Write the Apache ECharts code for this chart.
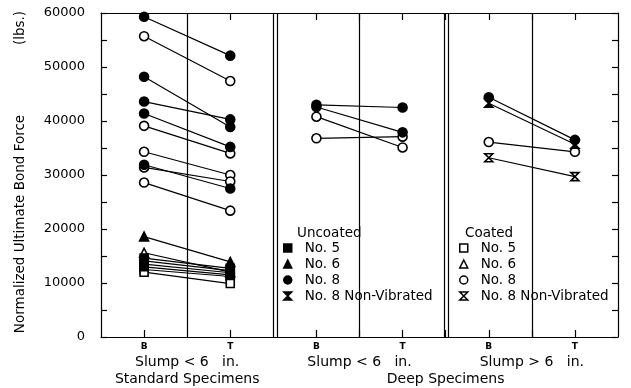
<!DOCTYPE html>
<html>
<head>
<meta charset="utf-8">
<script src="https://cdn.jsdelivr.net/npm/echarts@6/dist/echarts.min.js"></script>
<style>
html,body{margin:0;padding:0;background:#fff;}
#chart{width:631px;height:388px;}
</style>
</head>
<body>
<div id="chart"></div>
<script>
// ---- data (pairs: [value at B, value at T]) ----
const xTickPositions = [1, 3, 5, 7, 9, 11];
const xTickLabels = ['B', 'T', 'B', 'T', 'B', 'T'];
const yTicks = [0, 10000, 20000, 30000, 40000, 50000, 60000];

// Standard specimens, slump < 6 in.
const stdUncoatedNo5 = [[14600, 12700], [14100, 12300], [13500, 11900], [13000, 11500]];
const stdCoatedNo5 = [[12500, 11200], [12000, 9900]];
const stdUncoatedNo6 = [[18600, 13900]];
const stdCoatedNo6 = [[15600, 12000]];
const stdUncoatedNo8 = [[59300, 52100], [48200, 38900], [43600, 40300], [41400, 35200], [31900, 27500]];
const stdCoatedNo8 = [[55700, 47400], [39100, 34000], [34300, 30000], [31400, 28800], [28600, 23400]];

// Deep specimens, slump < 6 in.
const deepLowUncoatedNo8 = [[43000, 42500], [42600, 37900]];
const deepLowCoatedNo8 = [[40800, 35100], [36800, 37100]];

// Deep specimens, slump > 6 in.
const deepHighUncoatedNo8 = [[44400, 36500]];
const deepHighUncoatedNo8NV = [[43300, 35700]];
const deepHighCoatedNo8 = [[36100, 34300]];
const deepHighCoatedNo8NV = [[33200, 29700]];

const groupTitles = ['Slump < 6   in.', 'Slump < 6   in.', 'Slump > 6   in.'];
const groupSubTitles = ['Standard Specimens', 'Deep Specimens'];

// ---- styles ----
const FONT = '"DejaVu Sans", "Liberation Sans", sans-serif';
const HOUR = 'path://M0,0L10,0L0,10L10,10Z';
const styles = {
  'Uncoated No. 5': {symbol: 'rect', size: 8, fill: '#000'},
  'Uncoated No. 6': {symbol: 'triangle', size: 9, fill: '#000'},
  'Uncoated No. 8': {symbol: 'circle', size: 9, fill: '#000'},
  'Uncoated No. 8 Non-Vibrated': {symbol: HOUR, size: 8, fill: '#000'},
  'Coated No. 5': {symbol: 'rect', size: 8, fill: '#fff'},
  'Coated No. 6': {symbol: 'triangle', size: 9, fill: '#fff'},
  'Coated No. 8': {symbol: 'circle', size: 9, fill: '#fff'},
  'Coated No. 8 Non-Vibrated': {symbol: HOUR, size: 8, fill: '#fff'}
};

const series = [];
function addGroup(name, pairs, bx, tx) {
  const st = styles[name];
  pairs.forEach(p => {
    series.push({
      type: 'line', name: name, xAxisIndex: 0, yAxisIndex: 0,
      data: [[bx, p[0]], [tx, p[1]]],
      symbol: st.symbol, symbolSize: st.size, showSymbol: true,
      itemStyle: {color: st.fill, borderColor: '#000', borderWidth: 1.6, opacity: 1},
      lineStyle: {color: '#000', width: 1.2},
      z: st.fill === '#000' ? 4 : 3,
      animation: false, silent: true
    });
  });
}
addGroup('Coated No. 5', stdCoatedNo5, 1, 3);
addGroup('Uncoated No. 5', stdUncoatedNo5, 1, 3);
addGroup('Coated No. 6', stdCoatedNo6, 1, 3);
addGroup('Uncoated No. 6', stdUncoatedNo6, 1, 3);
addGroup('Coated No. 8', stdCoatedNo8, 1, 3);
addGroup('Uncoated No. 8', stdUncoatedNo8, 1, 3);
addGroup('Coated No. 8', deepLowCoatedNo8, 5, 7);
addGroup('Uncoated No. 8', deepLowUncoatedNo8, 5, 7);
addGroup('Coated No. 8', deepHighCoatedNo8, 9, 11);
addGroup('Coated No. 8 Non-Vibrated', deepHighCoatedNo8NV, 9, 11);
addGroup('Uncoated No. 8 Non-Vibrated', deepHighUncoatedNo8NV, 9, 11);
addGroup('Uncoated No. 8', deepHighUncoatedNo8, 9, 11);

// panel divider lines
series.push({
  type: 'line', name: 'dividers', data: [], silent: true, animation: false,
  markLine: {
    silent: true, symbol: 'none', label: {show: false}, animation: false,
    lineStyle: {color: '#000', width: 1.2, type: 'solid'},
    data: [{xAxis: 2}, {xAxis: 4}, {xAxis: 4.09}, {xAxis: 6}, {xAxis: 7.97}, {xAxis: 8.06}, {xAxis: 10}]
  }
});

function legendItems(prefix) {
  return ['No. 5', 'No. 6', 'No. 8', 'No. 8 Non-Vibrated'].map(n => {
    const name = prefix + ' ' + n;
    const st = styles[name];
    return {name: name, icon: st.symbol,
      itemStyle: {color: st.fill, borderColor: '#000', borderWidth: 1.5}};
  });
}
const legendCommon = {
  orient: 'vertical', itemWidth: 8, itemHeight: 8, itemGap: 2, padding: 0,
  selectedMode: false, inactiveColor: '#000',
  textStyle: {fontFamily: FONT, fontSize: 13.5, color: '#000', lineHeight: 14, padding: [0, 0, 0, 8]},
  formatter: n => n.replace(/^(Uncoated|Coated) /, '')
};

const tickPos = [1, 3, 5, 6, 7, 8, 9, 10, 11];
const yMinor = [];
for (let v = 0; v <= 60000; v += 5000) yMinor.push(v);

const chart = echarts.init(document.getElementById('chart'), null, {renderer: 'canvas'});
chart.setOption({
  animation: false,
  backgroundColor: '#fff',
  grid: {left: 101, right: 13, top: 13, bottom: 51},
  xAxis: [{
    type: 'value', min: 0, max: 12, position: 'bottom',
    axisLine: {show: true, onZero: false, lineStyle: {color: '#000', width: 1.2}},
    axisTick: {show: true, inside: true, length: 7, customValues: tickPos, lineStyle: {color: '#000', width: 1.2}},
    axisLabel: {show: true, customValues: xTickPositions, margin: 5,
      formatter: v => xTickLabels[xTickPositions.indexOf(v)] || '',
      fontFamily: FONT, fontSize: 9, fontWeight: 'bold', color: '#000'},
    splitLine: {show: false}
  }, {
    type: 'value', min: 0, max: 12, position: 'top',
    axisLine: {show: true, onZero: false, lineStyle: {color: '#000', width: 1.2}},
    axisTick: {show: true, inside: true, length: 7, customValues: tickPos, lineStyle: {color: '#000', width: 1.2}},
    axisLabel: {show: false}, splitLine: {show: false}
  }],
  yAxis: [{
    type: 'value', min: 0, max: 60000, interval: 10000, position: 'left',
    axisLine: {show: true, onZero: false, lineStyle: {color: '#000', width: 1.2}},
    axisTick: {show: true, inside: true, length: 6, customValues: yMinor, lineStyle: {color: '#000', width: 1.2}},
    axisLabel: {show: true, customValues: yTicks, margin: 16, formatter: v => String(v),
      fontFamily: FONT, fontSize: 13, color: '#000'},
    splitLine: {show: false}
  }, {
    type: 'value', min: 0, max: 60000, interval: 10000, position: 'right',
    axisLine: {show: true, onZero: false, lineStyle: {color: '#000', width: 1.2}},
    axisTick: {show: true, inside: true, length: 6, customValues: yMinor, lineStyle: {color: '#000', width: 1.2}},
    axisLabel: {show: false}, splitLine: {show: false}
  }],
  legend: [
    Object.assign({}, legendCommon, {left: 283, top: 241, data: legendItems('Uncoated')}),
    Object.assign({}, legendCommon, {left: 459, top: 241, data: legendItems('Coated')})
  ],
  series: series
});

const px = v => chart.convertToPixel({xAxisIndex: 0}, v);
const tstyle = (size) => ({fontFamily: FONT, fontSize: size, fill: '#000'});
chart.setOption({
  graphic: [
    {type: 'text', left: 297, top: 226, style: Object.assign({text: 'Uncoated'}, tstyle(13.5))},
    {type: 'text', left: 465, top: 226, style: Object.assign({text: 'Coated'}, tstyle(13.5))},
    {type: 'text', x: px(2), y: 362, style: Object.assign({text: groupTitles[0], align: 'center', verticalAlign: 'middle'}, tstyle(14))},
    {type: 'text', x: px(6), y: 362, style: Object.assign({text: groupTitles[1], align: 'center', verticalAlign: 'middle'}, tstyle(14))},
    {type: 'text', x: px(10), y: 362, style: Object.assign({text: groupTitles[2], align: 'center', verticalAlign: 'middle'}, tstyle(14))},
    {type: 'text', x: px(2), y: 379, style: Object.assign({text: groupSubTitles[0], align: 'center', verticalAlign: 'middle'}, tstyle(14))},
    {type: 'text', x: px(8), y: 379, style: Object.assign({text: groupSubTitles[1], align: 'center', verticalAlign: 'middle'}, tstyle(14))},
    {type: 'text', x: 20, y: 224, rotation: Math.PI / 2, style: Object.assign({text: 'Normalized Ultimate Bond Force', align: 'center', verticalAlign: 'middle'}, tstyle(13.5))},
    {type: 'text', x: 20, y: 28, rotation: Math.PI / 2, style: Object.assign({text: '(lbs.)', align: 'center', verticalAlign: 'middle'}, tstyle(13.5))}
  ]
});
</script>
</body>
</html>
